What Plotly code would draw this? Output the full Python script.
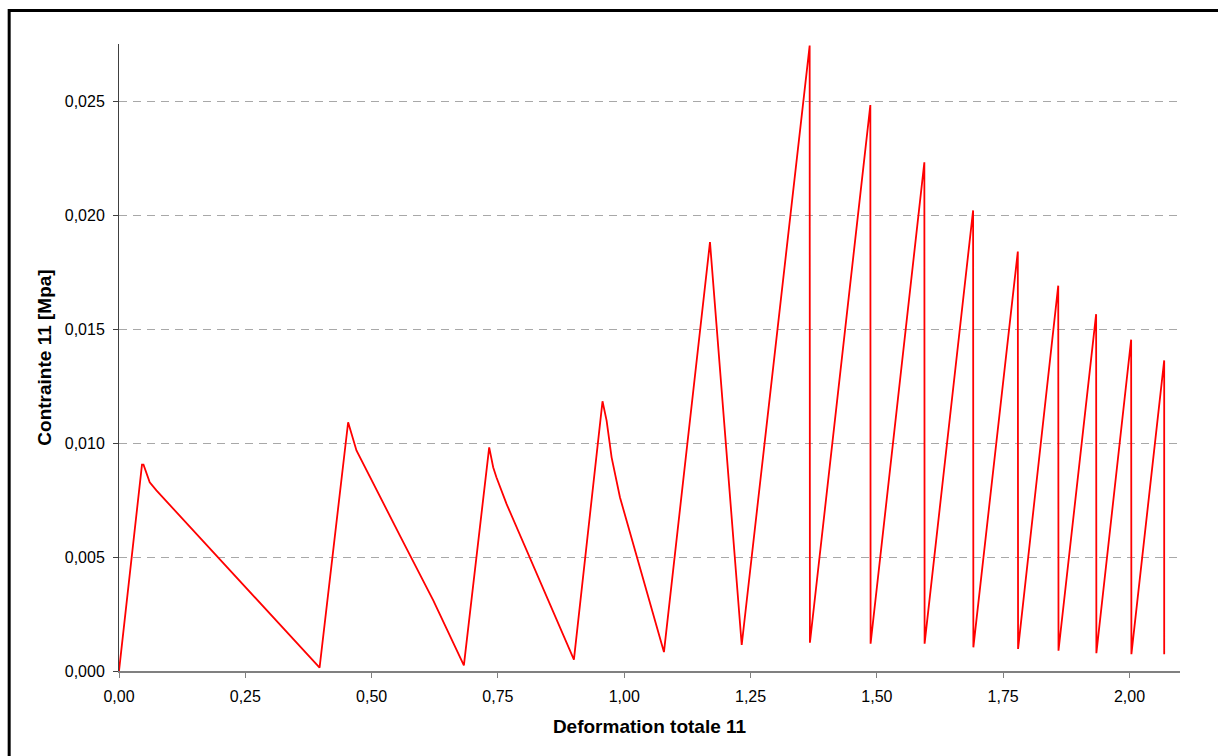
import plotly.graph_objects as go

# Deformation totale 11 (x) and Contrainte 11 [Mpa] (y)
strain = [0.0, 0.0455, 0.0485, 0.0542, 0.0608, 0.074, 0.397,
          0.4535, 0.4602, 0.470, 0.556, 0.622, 0.6826,
          0.7327, 0.7406, 0.747, 0.767, 0.9004,
          0.957, 0.9651, 0.975, 0.9915, 1.0786,
          1.1697, 1.2325,
          1.367, 1.3675,
          1.4871, 1.4876,
          1.594, 1.5945,
          1.6905, 1.691,
          1.779, 1.7795,
          1.859, 1.8595,
          1.934, 1.9345,
          2.0033, 2.0038,
          2.0687, 2.0687]
stress = [0.0, 0.00905, 0.00905, 0.00865, 0.00828, 0.00792, 0.00015,
          0.01091, 0.0104, 0.00967, 0.00594, 0.0031, 0.00025,
          0.00981, 0.00894, 0.0085, 0.00733, 0.0005,
          0.01183, 0.01098, 0.00937, 0.00762, 0.00083,
          0.01881, 0.00114,
          0.02743, 0.00124,
          0.02482, 0.0012,
          0.02231, 0.0012,
          0.0202, 0.00104,
          0.0184, 0.00097,
          0.0169, 0.00089,
          0.01565, 0.00078,
          0.01453, 0.00074,
          0.01362, 0.00074]

x_title = "Deformation totale 11"
y_title = "Contrainte 11 [Mpa]"

W, H = 1218, 756
L, R, T, B = 119.3, 38, 44, 85.3
pw, ph = W - L - R, H - T - B

fig = go.Figure(go.Scatter(x=strain, y=stress, mode="lines",
                           line=dict(color="#ff0000", width=1.8),
                           hoverinfo="x+y"))

fig.update_layout(
    width=W, height=H,
    margin=dict(l=L, r=R, t=T, b=B, autoexpand=False),
    paper_bgcolor="white", plot_bgcolor="white",
    showlegend=False,
    separators=", ",
    font=dict(family="Liberation Sans, Arial, sans-serif", size=16, color="#000000"),
    xaxis=dict(range=[0, 2.1], tick0=0, dtick=0.25, tickformat=".2f",
               ticks="outside", ticklen=5, tickcolor="#808080", tickwidth=1,
               ticklabelstandoff=5,
               showline=True, linecolor="#808080", linewidth=2,
               showgrid=False, zeroline=False, automargin=False,
               title=dict(text="<b>" + x_title + "</b>", font=dict(size=19), standoff=15)),
    yaxis=dict(range=[0, 0.0275], tick0=0, dtick=0.005, tickformat=".3f",
               ticks="outside", ticklen=5, tickcolor="#404040", tickwidth=1,
               ticklabelstandoff=5,
               showline=True, linecolor="#404040", linewidth=1,
               showgrid=True, gridcolor="#a8a8a8", gridwidth=1, griddash="8px,6px",
               zeroline=False, automargin=False,
               title=dict(text="<b>" + y_title + "</b>", font=dict(size=19), standoff=8)),
    shapes=[dict(type="rect", xref="paper", yref="paper",
                 x0=(9.5 - L) / pw, x1=(1230 - L) / pw,
                 y0=(H - B - 770) / ph, y1=(H - B - 10.5) / ph,
                 line=dict(color="black", width=3), layer="below")],
)

fig.write_html("out.html", config={"displayModeBar": False},
               post_script="document.body.style.margin='0';document.body.style.overflow='hidden';")
